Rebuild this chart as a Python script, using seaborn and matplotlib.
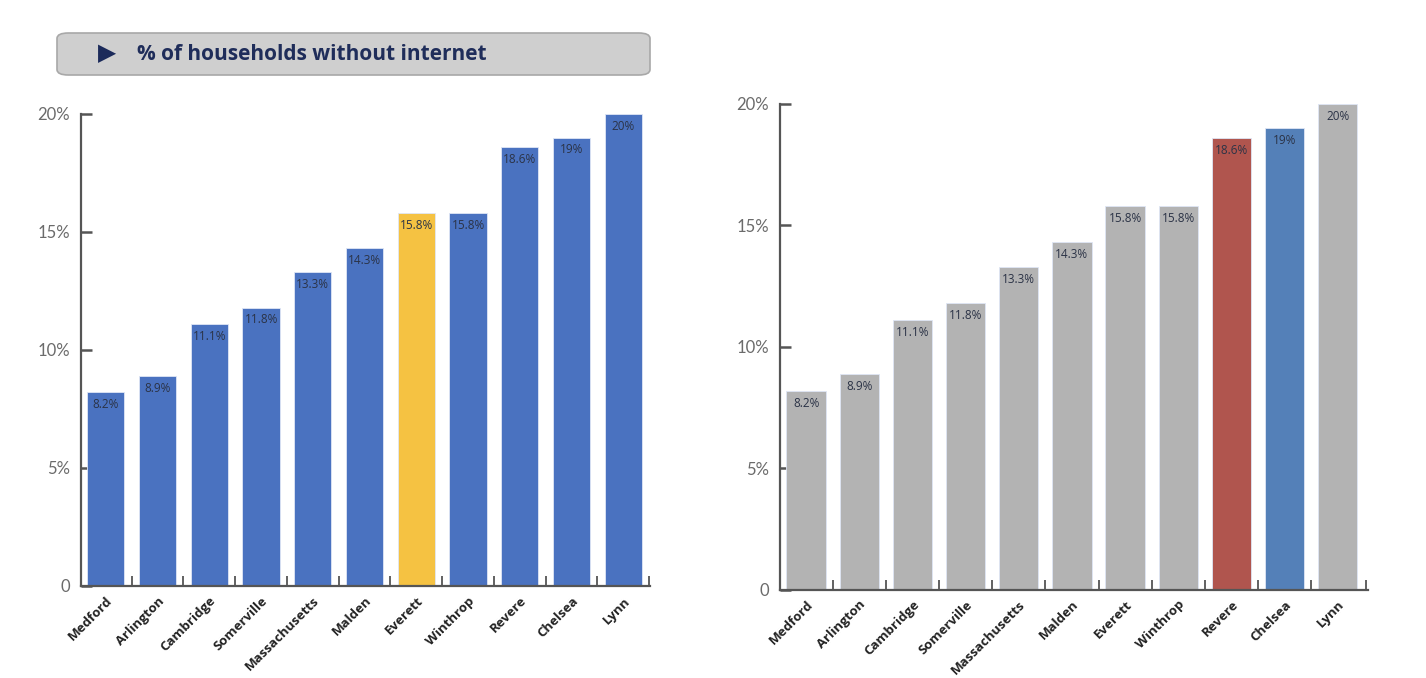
import seaborn as sns
import matplotlib.pyplot as plt
import pandas as pd
from matplotlib.patches import FancyBboxPatch

towns = ['Medford', 'Arlington', 'Cambridge', 'Somerville', 'Massachusetts',
         'Malden', 'Everett', 'Winthrop', 'Revere', 'Chelsea', 'Lynn']
pct_no_internet = [8.2, 8.9, 11.1, 11.8, 13.3, 14.3, 15.8, 15.8, 18.6, 19, 20]
value_labels = ['8.2%', '8.9%', '11.1%', '11.8%', '13.3%', '14.3%',
                '15.8%', '15.8%', '18.6%', '19%', '20%']
ytick_vals = [0, 5, 10, 15, 20]
ytick_labels = ['0', '5%', '10%', '15%', '20%']
title = '% of households without internet'

left_colors = {t: '#4A72C0' for t in towns}
left_colors['Everett'] = '#F5C242'
right_colors = {t: '#B3B3B3' for t in towns}
right_colors['Revere'] = '#B0554E'
right_colors['Chelsea'] = '#5480B8'


def draw_panel(ax, df, palette, width, xlim):
    sns.barplot(data=df, x='town', y='pct', hue='town', palette=palette,
                legend=False, width=width, saturation=1, ax=ax,
                edgecolor='#dfe6f5', linewidth=0.6)
    for bar, lab in zip(ax.patches, value_labels):
        ax.text(bar.get_x() + bar.get_width() / 2, bar.get_height() - 0.25, lab,
                ha='center', va='top', fontsize=8.5, color='#2b3346',
                family='Open Sans')
    ax.set_xlim(*xlim)
    ax.set_ylim(0, 20)
    ax.set_yticks(ytick_vals)
    ax.set_yticklabels(ytick_labels, fontsize=12, color='#6b6b6b', family='Lato')
    ax.set_xticks(range(len(towns)))
    ax.set_xticklabels(towns, rotation=45, ha='right', rotation_mode='anchor',
                       fontsize=9.5, fontweight='bold', color='#222222',
                       family='Open Sans')
    ax.set_xticks([i + 0.5 for i in range(len(towns) - 1)] + [xlim[1] - 0.02], minor=True)
    ax.tick_params(axis='x', which='major', bottom=True, length=0, pad=6)
    ax.tick_params(axis='x', which='minor', bottom=True, direction='in', length=7,
                   width=1.3, color='#555555')
    ax.tick_params(axis='y', which='major', left=True, direction='in', length=8,
                   width=1.8, color='#555555', pad=8)
    for s in ['top', 'right']:
        ax.spines[s].set_visible(False)
    for s in ['left', 'bottom']:
        ax.spines[s].set_color('#555555')
        ax.spines[s].set_linewidth(1.6)
    ax.set_xlabel('')
    ax.set_ylabel('')
    ax.grid(False)


def main():
    sns.set_style('white')
    df = pd.DataFrame({'town': towns, 'pct': pct_no_internet})

    fig = plt.figure(figsize=(14.26, 6.78), dpi=100)
    ax1 = fig.add_axes([0.0568, 0.1357, 0.3992, 0.6962])
    ax2 = fig.add_axes([0.547, 0.130, 0.412, 0.7168])

    draw_panel(ax1, df, left_colors, 0.72, (-0.48, 10.52))
    draw_panel(ax2, df, right_colors, 0.74, (-0.49, 10.56))

    # title banner
    box = FancyBboxPatch((57 / 1426, 1 - 75 / 678), (650 - 57) / 1426, 42 / 678,
                         boxstyle='round,pad=0,rounding_size=0.008',
                         transform=fig.transFigure, facecolor='#CFCFCF',
                         edgecolor='#A8A8A8', linewidth=1.2)
    fig.patches.append(box)
    fig.text(98 / 1426, 1 - 53 / 678, '\u25B6', fontsize=17, color='#1B2A5A',
             va='center', ha='left', family='DejaVu Sans')
    fig.text(137 / 1426, 1 - 54 / 678, title, fontsize=15, fontweight='bold',
             color='#1F2D5A', va='center', ha='left', family='Open Sans')

    fig.savefig('out.png', dpi=100)


if __name__ == "__main__":
    main()
